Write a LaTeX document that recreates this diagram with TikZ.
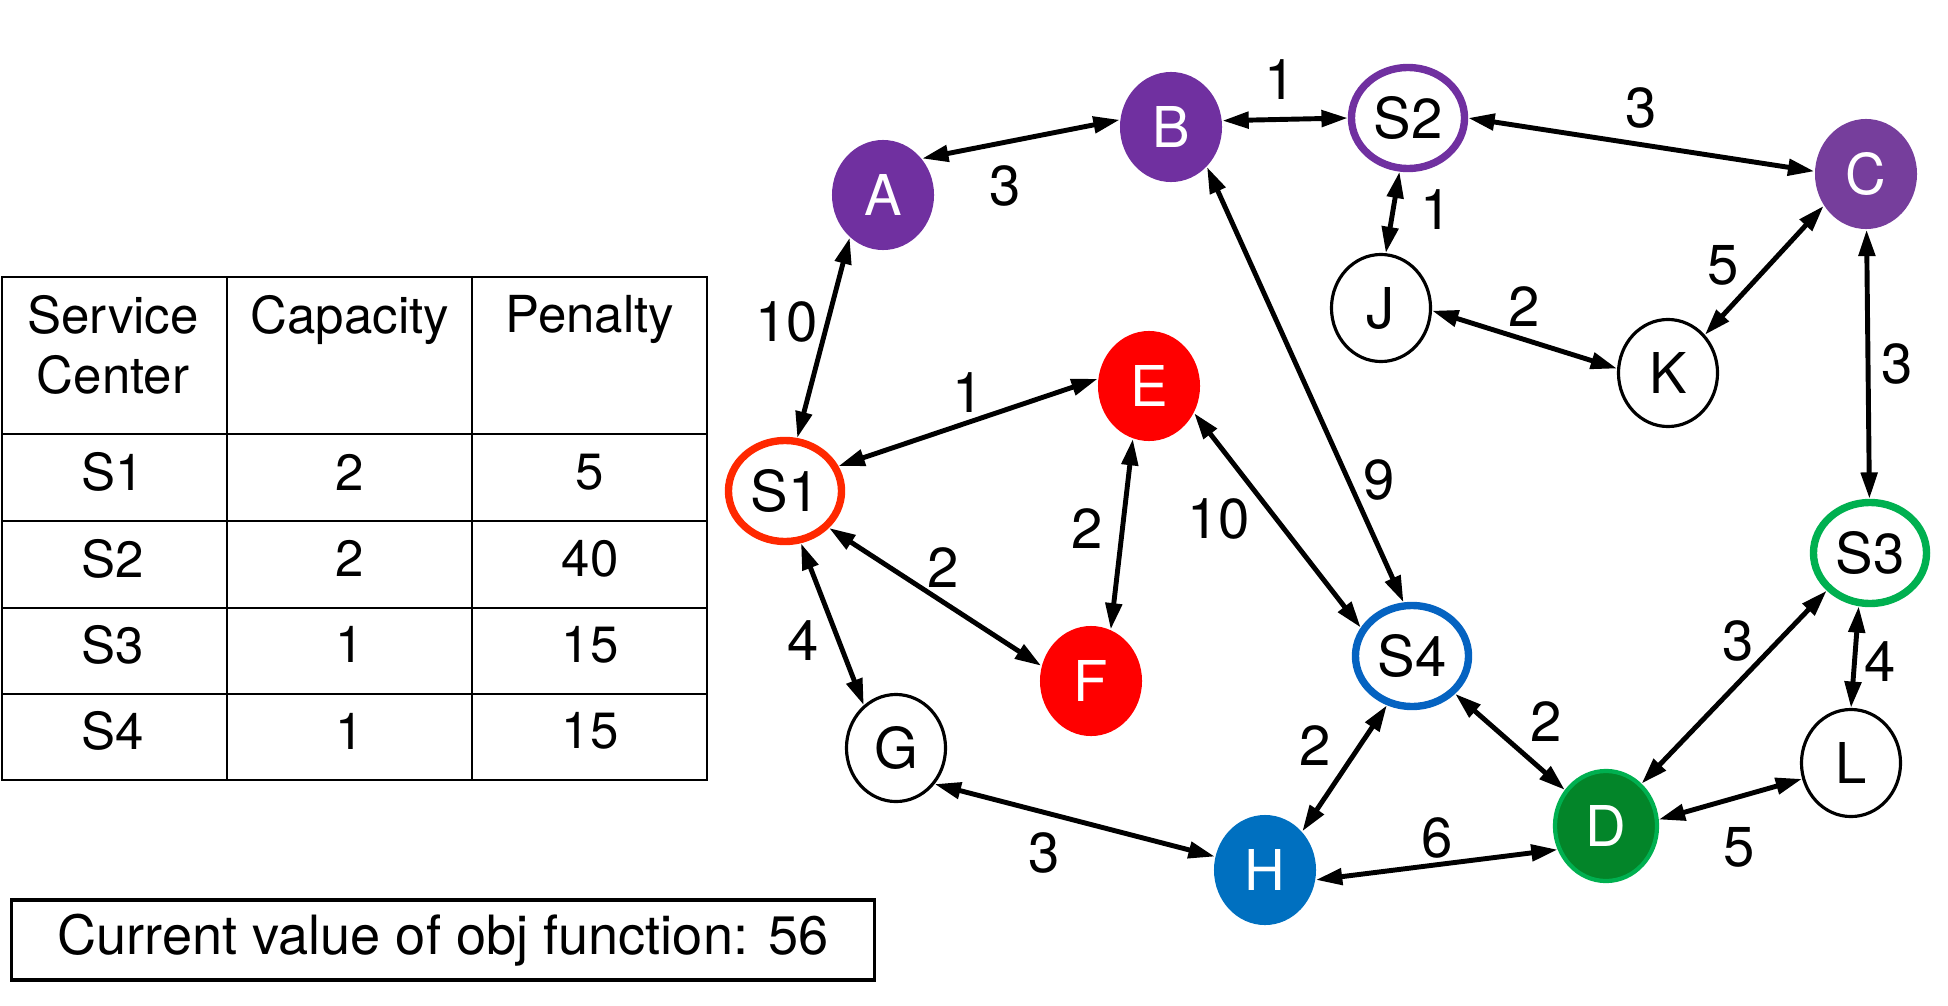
\documentclass[tikz,border=0pt]{standalone}
\usepackage{fontspec}
\setmainfont{TeX Gyre Heros}
\usepackage{xcolor}
\usetikzlibrary{shapes.geometric,arrows.meta}

\definecolor{purp}{RGB}{112,48,160}
\definecolor{purpc}{RGB}{118,62,156}
\definecolor{redfill}{RGB}{255,0,0}
\definecolor{redring}{RGB}{255,40,0}
\definecolor{bluefill}{RGB}{0,112,192}
\definecolor{bluering}{RGB}{5,99,193}
\definecolor{dgreen}{RGB}{3,133,41}
\definecolor{lgreen}{RGB}{0,176,80}

\begin{document}
\begin{tikzpicture}[
  x=0.01cm, y=-0.01cm,
  font=\fontsize{14.5}{17}\selectfont,
  vtx/.style  = {ellipse, inner sep=0pt, minimum width=1.02cm, minimum height=1.1cm,
                 font=\fontsize{16}{18}\selectfont},
  dem/.style  = {vtx, fill=#1, text=white},
  cust/.style = {vtx, draw, line width=0.9pt, minimum width=0.99cm, minimum height=1.07cm},
  svc/.style  = {vtx, draw=#1, line width=2.1pt, minimum width=1.13cm, minimum height=1.01cm},
  arr/.style  = {{Triangle[length=7.5pt,width=4.6pt]}-{Triangle[length=7.5pt,width=4.6pt]}, line width=1.4pt},
  lbl/.style  = {inner sep=0pt, font=\fontsize{16}{18}\selectfont},
  cell/.style = {inner sep=0pt, align=center},
  grid/.style = {line width=0.6pt}
]
  \useasboundingbox (0,0) rectangle (1948,1006);

  % network
  \node[dem=purp]     (A)  at (883,195)  {A};
  \node[dem=purp]     (B)  at (1171,127) {B};
  \node[svc=purp]     (S2) at (1408,118) {S2};
  \node[dem=purpc]    (C)  at (1866,174) {C};
  \node[cust]         (J)  at (1381,308) {J};
  \node[cust]         (K)  at (1668,373) {K};
  \node[dem=redfill]  (E)  at (1149,386) {E};
  \node[svc=redring]  (S1) at (785,491)  {S1};
  \node[dem=redfill]  (F)  at (1091,681) {F};
  \node[cust]         (G)  at (896,748)  {G};
  \node[svc=bluering] (S4) at (1412,656) {S4};
  \node[svc=lgreen]   (S3) at (1870,553) {S3};
  \node[dem=bluefill] (H)  at (1265,870) {H};
  \node[dem=dgreen, draw=lgreen, line width=1.2pt] (D) at (1606,826) {D};
  \node[cust]         (L)  at (1851,763) {L};

  \draw[arr] (A.43)    -- node[lbl, pos=.42, below=6pt] {3} (B.172);
  \draw[arr] (B.7)     -- node[lbl, pos=.46, above=5pt] {1} (S2.180);
  \draw[arr] (S2.0)    -- node[lbl, above=4pt] {3} (C.177);
  \draw[arr] (S2.-99)  -- node[lbl, pos=.47, right=7pt] {1} (J.85);
  \draw[arr] (C.217)   -- node[lbl, pos=.66, above left=1pt] {5} (K.46);
  \draw[arr] (J.-3)    -- node[lbl, above=3pt] {2} (K.175);
  \draw[arr] (C)       -- node[lbl, right=3pt] {3} (S3);
  \draw[arr] (A.232)   -- node[lbl, pos=.42, left=2pt] {10} (S1.77);
  \draw[arr] (S1.25)   -- node[lbl, above=2pt] {1} (E.172);
  \draw[arr] (S1.-40)  -- node[lbl, pos=.45, above right=0pt] {2} (F.163);
  \draw[arr] (E.-107)  -- node[lbl, pos=.47, left=5pt] {2} (F.69);
  \draw[arr] (E.-31)   -- node[lbl, pos=.37, below left=1pt] {10} (S4.151);
  \draw[arr] (B.-48)   -- node[lbl, pos=.72, right=3.5pt] {9} (S4.99);
  \draw[arr] (S1.-73)  -- node[lbl, pos=.6, left=5pt] {4} (G.127);
  \draw[arr] (G.-43)   -- node[lbl, pos=.39, below=5pt] {3} (H.165);
  \draw[arr] (S4.-117) -- node[lbl, pos=.55, above left=2pt] {2} (H.46);
  \draw[arr] (S4)      -- node[lbl, pos=.6, above right=2pt] {2} (D);
  \draw[arr] (H.-11)   -- node[lbl, above=1pt] {6} (D.206);
  \draw[arr] (S3.221)  -- node[lbl, pos=.38, above left=0pt] {3} (D.50);
  \draw[arr] (S3.-102) -- node[lbl, pos=.54, right=2pt] {4} (L.90);
  \draw[arr] (D.7)     -- node[lbl, pos=.56, below=8pt] {5} (L.198);

  % service center table
  \draw[grid] (2,277) rectangle (707,780);
  \draw[grid] (227,277) -- (227,780) (472,277) -- (472,780);
  \foreach \ry in {434,521,608,694}
    \draw[grid] (2,\ry) -- (707,\ry);
  \node[cell, anchor=north] (hsc)  at (113,295) {Service\\Center};
  \node[cell, anchor=north] (hcap) at (350,295) {Capacity};
  \node[cell, anchor=north] (hpen) at (590,295) {Penalty};
  \foreach \s/\c/\p [count=\i] in {S1/2/5, S2/2/40, S3/1/15, S4/1/15} {
    \node[cell] (sc\i)  at (113,386+86.3*\i) {\s};
    \node[cell] (cap\i) at (350,386+86.3*\i) {\c};
    \node[cell] (pen\i) at (590,386+86.3*\i) {\p};
  }

  \node[draw, line width=0.9pt, inner sep=0pt, minimum width=8.63cm, minimum height=0.8cm,
        font=\fontsize{15.4}{18}\selectfont] (obj) at (443,940) {Current value of obj function: 56};
\end{tikzpicture}
\end{document}
